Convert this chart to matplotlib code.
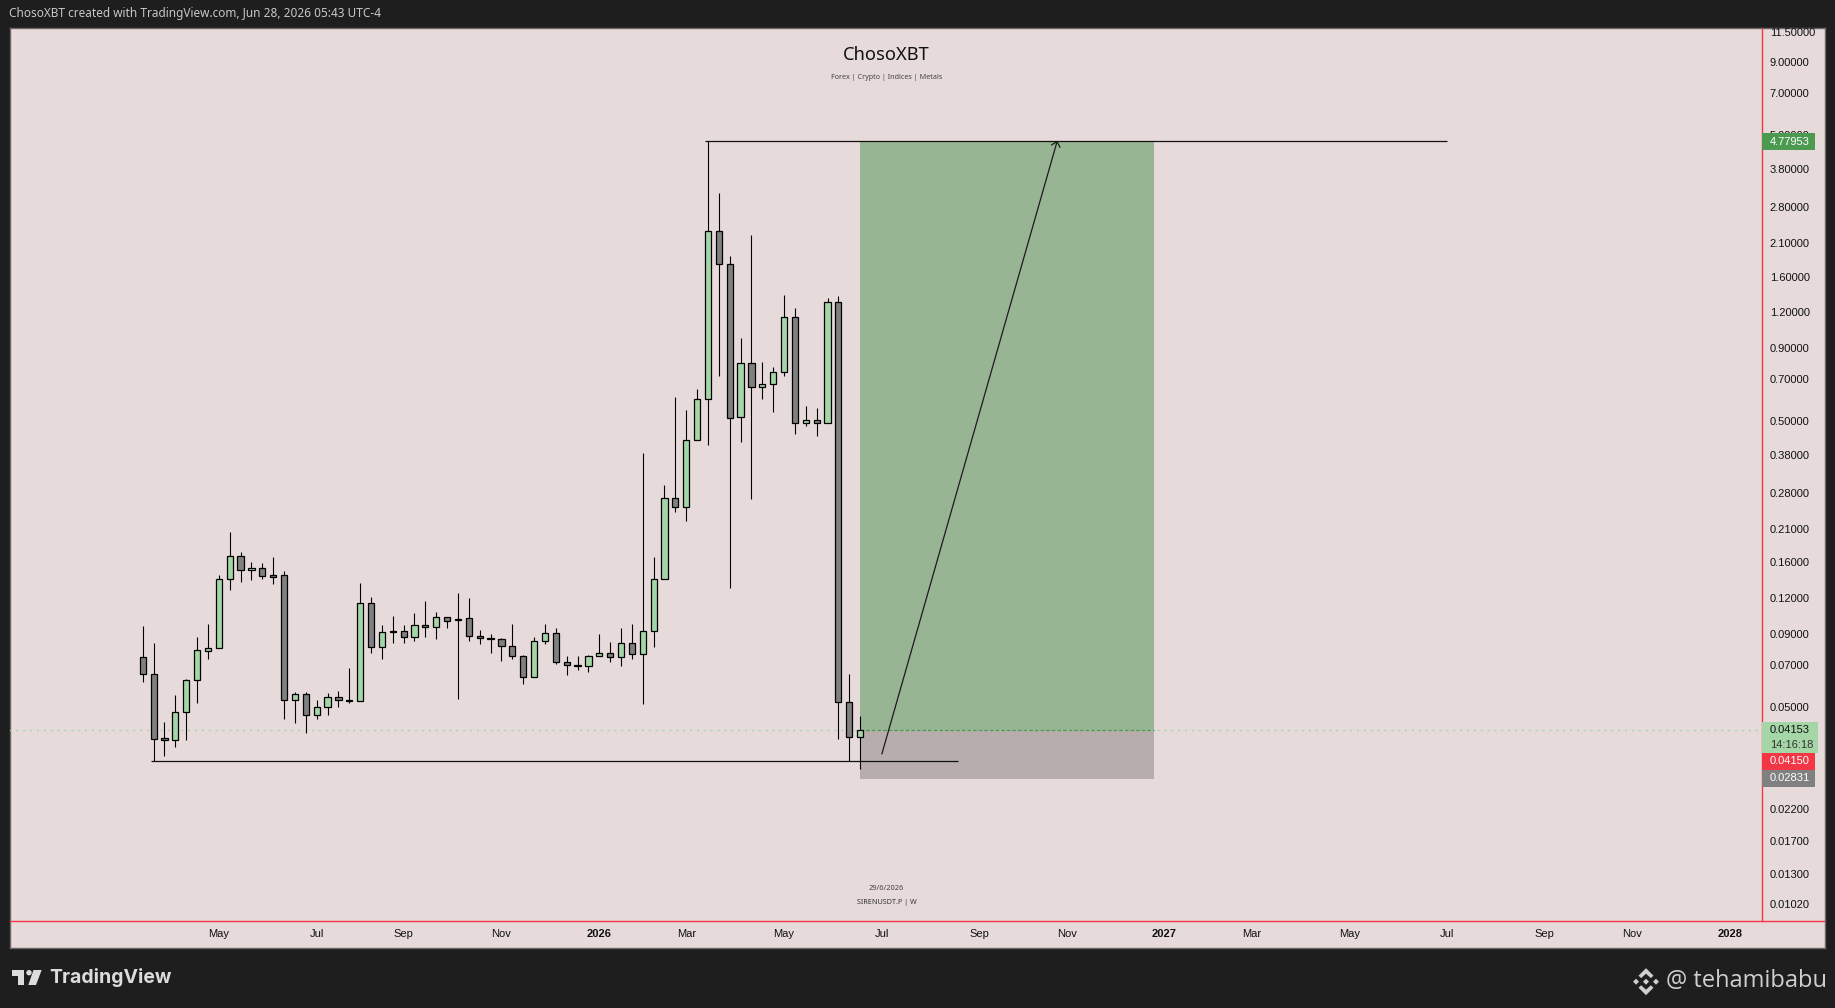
import matplotlib
matplotlib.use("Agg")
import matplotlib.pyplot as plt
import matplotlib.dates as mdates
from matplotlib.patches import Rectangle, Polygon, Circle
from matplotlib.ticker import FixedLocator, FixedFormatter, NullLocator
import numpy as np
import pandas as pd

# ---------- data ----------
first_week = "2025-03-17"
opens = [0.07449, 0.06496, 0.03878, 0.03815, 0.04780, 0.06189, 0.07859, 0.08007, 0.1397, 0.1681, 0.1502, 0.1526,
         0.1442, 0.1442, 0.05295, 0.05528, 0.04668, 0.04977, 0.05397, 0.05267, 0.05253, 0.1151, 0.08074, 0.09159,
         0.09185, 0.08751, 0.09640, 0.09486, 0.1028, 0.1012, 0.1020, 0.08822, 0.08682, 0.08612, 0.08139, 0.07509,
         0.06339, 0.08472, 0.09039, 0.07155, 0.06983, 0.06927, 0.07509, 0.07692, 0.07449, 0.08338, 0.07631, 0.09185,
         0.1397, 0.2683, 0.2495, 0.4279, 0.5956, 2.307, 1.768, 0.5151, 0.7961, 0.6562, 0.6718, 0.7402,
         1.153, 0.4908, 0.5028, 0.4908, 1.301, 0.05183, 0.03930]
closes = [0.06496, 0.03868, 0.03815, 0.04780, 0.06189, 0.07880, 0.08007, 0.1397, 0.1681, 0.1502, 0.1526, 0.1431,
          0.1427, 0.05295, 0.05528, 0.04668, 0.04977, 0.05397, 0.05267, 0.05240, 0.1151, 0.08074, 0.09111, 0.09185,
          0.08751, 0.09640, 0.09486, 0.1028, 0.09955, 0.1003, 0.08822, 0.08682, 0.08658, 0.08139, 0.07509, 0.06339,
          0.08472, 0.09039, 0.07155, 0.06983, 0.06927, 0.07509, 0.07692, 0.07449, 0.08338, 0.07631, 0.09185, 0.1397,
          0.2683, 0.2495, 0.4281, 0.5956, 2.307, 1.768, 0.5110, 0.7961, 0.6562, 0.6718, 0.7402, 1.153,
          0.4908, 0.5028, 0.4908, 1.301, 0.05183, 0.03930, 0.04135]
highs = [0.09588, 0.08338, 0.04412, 0.05483, 0.06239, 0.08776, 0.09718, 0.1442, 0.2040, 0.1736, 0.1602, 0.1589,
         0.1668, 0.1490, 0.05619, 0.05619, 0.05267, 0.05574, 0.05662, 0.06816, 0.1352, 0.1208, 0.09640, 0.1037,
         0.09640, 0.1062, 0.1170, 0.1070, 0.1028, 0.1248, 0.1198, 0.09259, 0.08966, 0.08682, 0.09718, 0.07570,
         0.08776, 0.09718, 0.09410, 0.07509, 0.07509, 0.07570, 0.08966, 0.08405, 0.09410, 0.09718, 0.3866, 0.1668,
         0.2987, 0.6072, 0.5467, 0.6457, 4.78, 3.142, 1.891, 0.9741, 2.234, 0.8023, 0.7710, 1.377,
         1.240, 0.5627, 0.5538, 1.344, 1.366, 0.06511, 0.04630]
lows = [0.06123, 0.03222, 0.03373, 0.03627, 0.03836, 0.05169, 0.07369, 0.08007, 0.1285, 0.1371, 0.1393, 0.1404,
        0.1349, 0.04544, 0.04400, 0.04058, 0.04544, 0.04693, 0.05005, 0.05169, 0.05253, 0.07734, 0.07369, 0.08382,
        0.08382, 0.08519, 0.08799, 0.08658, 0.09460, 0.05339, 0.08519, 0.08316, 0.07734, 0.07250, 0.07369, 0.06025,
        0.06339, 0.08316, 0.07078, 0.06477, 0.06742, 0.06636, 0.07509, 0.07200, 0.06964, 0.07369, 0.05127, 0.08117,
        0.1397, 0.2410, 0.2241, 0.4279, 0.4133, 0.7151, 0.1305, 0.4233, 0.2675, 0.5987, 0.5351, 0.7151,
        0.4517, 0.4818, 0.4445, 0.4908, 0.03868, 0.03222, 0.03037]
tp_price = 4.77953
entry_price = 0.04153
stop_price = 0.02831
stop_zone_price = 0.0280
low_line_price = 0.03222
arrow_start_price = 0.0342
price_ticks = [11.5, 9.0, 7.0, 5.0, 3.8, 2.8, 2.1, 1.6, 1.2, 0.9, 0.7, 0.5, 0.38, 0.28, 0.21, 0.16, 0.12,
               0.09, 0.07, 0.05, 0.022, 0.017, 0.013, 0.0102]
time_ticks = ["2025-05-05", "2025-07-07", "2025-09-01", "2025-11-03", "2026-01-05", "2026-03-02", "2026-05-04",
              "2026-07-06", "2026-09-07", "2026-11-02", "2027-01-04", "2027-03-01", "2027-05-03", "2027-07-05",
              "2027-09-06", "2027-11-01", "2028-01-03"]
time_labels = ["May", "Jul", "Sep", "Nov", "2026", "Mar", "May", "Jul", "Sep", "Nov", "2027", "Mar", "May", "Jul",
               "Sep", "Nov", "2028"]
header = "ChosoXBT created with TradingView.com, Jun 28, 2026 05:43 UTC-4"

# ---------- style ----------
BG = "#E7DADA"
DARK = "#1E1E1E"
UP = "#A5D6A7"
DOWN = "#808080"
RED = "#F23645"
W, H = 1835, 1008
LABEL_FONT = "Liberation Sans"

fig = plt.figure(figsize=(W / 100, H / 100), dpi=100, facecolor=DARK)

def px_axes(l, t, r, b):
    return [l / W, 1 - b / H, (r - l) / W, (b - t) / H]

# pane background
bg = fig.add_axes(px_axes(10, 27.5, 1825, 947.5), facecolor=BG)
bg.set_xticks([]); bg.set_yticks([])
for s in bg.spines.values():
    s.set_color("#6A6464"); s.set_linewidth(1.0)

# price pane
ax = fig.add_axes(px_axes(10, 27.5, 1761.5, 920.5), facecolor="none")
ax.set_yscale("log")
ax.set_ylim(0.00894, 11.89)
ax.set_xlim(mdates.date2num(pd.Timestamp("2024-12-21 12:00")), mdates.date2num(pd.Timestamp("2028-01-23 12:00")))
for name in ("top", "left"):
    ax.spines[name].set_visible(False)
for name in ("right", "bottom"):
    ax.spines[name].set_color(RED); ax.spines[name].set_linewidth(1.0)

weeks = mdates.date2num(pd.date_range(first_week, periods=len(opens), freq="7D"))
o, h, l, c = map(np.array, (opens, highs, lows, closes))
up = c >= o
colors = [UP if u else DOWN for u in up]
ax.vlines(weeks, l, h, color="black", lw=0.8, zorder=3)
ax.bar(weeks, np.abs(c - o), bottom=np.minimum(o, c), width=4.0, color=colors, edgecolor="black",
       linewidth=0.9, zorder=4)

def d(s):
    return mdates.date2num(pd.Timestamp(s))

# position tool
ax.fill_between([d("2026-06-22"), d("2026-12-28")], entry_price, tp_price, color="#97B592", lw=0, zorder=1)
ax.fill_between([d("2026-06-22"), d("2026-12-28")], stop_zone_price, entry_price, color="#B7ADAD", lw=0, zorder=1)
ax.hlines(entry_price, d("2024-12-21"), d("2028-01-23"), color="#9BD89E", lw=0.9, linestyles=[(0, (1.5, 4))], zorder=2)
ax.hlines(entry_price, d("2026-06-22"), d("2026-12-28"), color="#4C9A50", lw=0.9, linestyles=[(0, (3, 1.5))], zorder=2)

# drawings
ax.hlines(tp_price, d("2026-03-14"), d("2027-07-05"), color="#101010", lw=0.9, zorder=5)
ax.hlines(low_line_price, d("2025-03-22"), d("2026-08-24"), color="#101010", lw=0.9, zorder=5)
ax.annotate("", xy=(d("2026-10-27"), tp_price), xytext=(d("2026-07-06"), arrow_start_price),
            arrowprops=dict(arrowstyle="->,head_length=0.35,head_width=0.32", color="#1c1c1c", lw=0.9,
                            mutation_scale=10, shrinkA=0, shrinkB=0),
            zorder=5)

# axes ticks
ax.yaxis.tick_right()
ax.yaxis.set_major_locator(FixedLocator(price_ticks))
ax.yaxis.set_major_formatter(FixedFormatter(["%.5f" % p for p in price_ticks]))
ax.yaxis.set_minor_locator(NullLocator())
ax.tick_params(axis="y", which="major", length=0, pad=6.0, labelsize=8.0, labelcolor="#111111")
ax.set_xticks([d(t) for t in time_ticks])
ax.set_xticklabels(time_labels)
ax.tick_params(axis="x", length=0, pad=6.0, labelsize=8.0, labelcolor="#111111")
for lab, txt in zip(ax.get_xticklabels(), time_labels):
    lab.set_fontfamily(LABEL_FONT)
    if txt.isdigit():
        lab.set_fontweight("bold")
for lab in ax.get_yticklabels():
    lab.set_fontfamily(LABEL_FONT)

# overlay in pixel coordinates for chrome
ov = fig.add_axes([0, 0, 1, 1], facecolor="none")
ov.set_xlim(0, W); ov.set_ylim(H, 0); ov.axis("off")
ov.plot([1761.5, 1825], [920.5, 920.5], color=RED, lw=1.0, solid_capstyle="butt")

def tag(y0, y1, x1, color):
    ov.add_patch(Rectangle((1762, y0), x1 - 1762, y1 - y0, facecolor=color, edgecolor="none"))

def tag_text(y, s, color):
    ov.text(1770, y, s, color=color, fontsize=8.0, family=LABEL_FONT, va="center", ha="left")

tag(133.3, 150, 1815, "#4C9A50"); tag_text(141.7, "%.5f" % tp_price, "white")
tag(722, 752.7, 1818, UP); tag_text(730, "%.5f" % entry_price, "#111111"); tag_text(744.7, "14:16:18", "#333333")
tag(753.3, 769.5, 1815, RED); tag_text(761.5, "0.04150", "white")
tag(770, 786.7, 1815, DOWN); tag_text(778, "%.5f" % stop_price, "white")

# titles
ov.text(886.5, 55, "ChosoXBT", fontsize=13.2, family="Noto Sans", ha="center", va="center", color="#111111")
ov.text(886.5, 77.3, "Forex | Crypto | Indices | Metals", fontsize=5.2, family="Noto Sans", ha="center", va="center", color="#444444")
ov.text(886.5, 888, "29/6/2026", fontsize=5.3, family="Noto Sans", ha="center", va="center", color="#444444")
ov.text(886.5, 902, "SIRENUSDT.P | W", fontsize=5.2, family="Noto Sans", ha="center", va="center", color="#333333")
ov.text(9, 14, header, fontsize=8.5, family="Noto Sans", ha="left", va="center", color="#C8C8C8")

# TradingView logo
LOGO = "#DCDCDC"
ov.add_patch(Polygon([(12, 970), (24, 970), (24, 985), (17.5, 985), (17.5, 976), (12, 976)], closed=True, fc=LOGO, ec="none"))
ov.add_patch(Circle((29, 972.7), 2.7, fc=LOGO, ec="none"))
ov.add_patch(Polygon([(33.5, 970), (41.7, 970), (36, 985), (28.3, 985)], closed=True, fc=LOGO, ec="none"))
ov.text(49, 977.5, "TradingView", fontsize=14.0, family="Inter", fontweight="bold", ha="left", va="center", color=LOGO)

# watermark
WM = "#CFCFCF"
cx, cy = 1646, 981.7
def diamond(x, y, r):
    ov.add_patch(Polygon([(x, y - r), (x + r, y), (x, y + r), (x - r, y)], closed=True, fc=WM, ec="none"))
diamond(cx, cy, 3); diamond(cx - 10, cy, 3); diamond(cx + 10, cy, 3)
for sgn in (-1, 1):
    ov.add_patch(Polygon([(cx, cy + sgn * 13.5), (cx + 7.5, cy + sgn * 6), (cx + 4.8, cy + sgn * 3.6),
                          (cx, cy + sgn * 8), (cx - 4.8, cy + sgn * 3.6), (cx - 7.5, cy + sgn * 6)],
                         closed=True, fc=WM, ec="none"))
ov.text(1665.5, 981, "@ tehamibabu", fontsize=17.0, family="Open Sans", ha="left", va="center", color=WM)

fig.savefig("out.png", dpi=100, facecolor=DARK)
